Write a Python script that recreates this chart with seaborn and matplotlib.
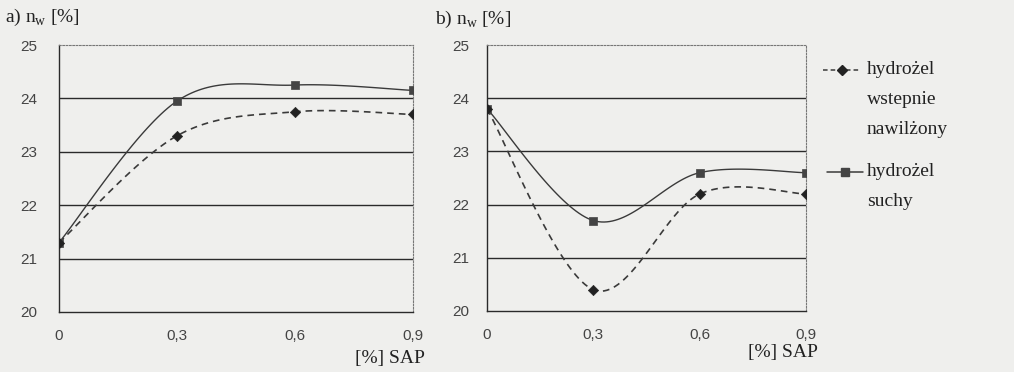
import numpy as np
import pandas as pd
import matplotlib
matplotlib.use("Agg")
import matplotlib.pyplot as plt
import seaborn as sns
from matplotlib.lines import Line2D

sns.set_theme(style="white")

sap = [0.0, 0.3, 0.6, 0.9]
xtick_labels = ["0", "0,3", "0,6", "0,9"]
a_wet = [21.3, 23.3, 23.75, 23.7]
a_dry = [21.3, 23.95, 24.25, 24.15]
b_wet = [23.8, 20.4, 22.2, 22.2]
b_dry = [23.8, 21.7, 22.6, 22.6]
series_names = ["hydrożel\nwstepnie\nnawilżony", "hydrożel\nsuchy"]

BG = "#efefed"
INK = "#2a2a2a"
serif = "Liberation Serif"
sans = "Liberation Sans"


def smooth(x, y, n=40):
    # Excel-like smoothed line (Catmull-Rom / cubic Bezier) through data points
    x = np.asarray(x, float); y = np.asarray(y, float)
    px = np.concatenate([[x[0]], x, [x[-1]]])
    py = np.concatenate([[y[0]], y, [y[-1]]])
    xs, ys = [], []
    for i in range(1, len(px) - 2):
        p0 = np.array([px[i - 1], py[i - 1]]); p1 = np.array([px[i], py[i]])
        p2 = np.array([px[i + 1], py[i + 1]]); p3 = np.array([px[i + 2], py[i + 2]])
        c1 = p1 + (p2 - p0) / 6.0
        c2 = p2 - (p3 - p1) / 6.0
        t = np.linspace(0, 1, n)[:, None]
        pts = (1 - t) ** 3 * p1 + 3 * (1 - t) ** 2 * t * c1 + 3 * (1 - t) * t ** 2 * c2 + t ** 3 * p2
        xs.extend(pts[:, 0]); ys.extend(pts[:, 1])
    return np.array(xs), np.array(ys)


fig = plt.figure(figsize=(10.14, 3.72), dpi=100)
fig.patch.set_facecolor(BG)

ax_a = fig.add_axes([0.0582, 0.1613, 0.349, 0.7177])
ax_b = fig.add_axes([0.4803, 0.1640, 0.3146, 0.7150])

for ax, wet, dry, ypad in [(ax_a, a_wet, a_dry, 12), (ax_b, b_wet, b_dry, 9)]:
    ax.set_facecolor(BG)
    for yv in [21, 22, 23, 24]:
        ax.axhline(yv, color=INK, lw=1.0, zorder=1)
    sx, sy = smooth(sap, dry)
    sns.lineplot(x=sx, y=sy, ax=ax, color="#3a3a3a", lw=1.0, sort=False, zorder=3)
    wx, wy = smooth(sap, wet)
    sns.lineplot(x=wx, y=wy, ax=ax, color="#3a3a3a", lw=1.2, sort=False, zorder=3,
                 linestyle=(0, (4, 3)))
    sns.scatterplot(x=sap, y=dry, ax=ax, marker="s", s=38, color="#444444",
                    edgecolor="#444444", zorder=4)
    sns.scatterplot(x=sap, y=wet, ax=ax, marker="D", s=28, color="#222222",
                    edgecolor="#222222", zorder=4)
    ax.set_xlim(0, 0.9)
    ax.set_ylim(20, 25)
    ax.set_xticks(sap)
    ax.set_xticklabels(xtick_labels)
    ax.set_yticks([20, 21, 22, 23, 24, 25])
    ax.tick_params(axis="both", direction="out", length=4, width=1, color=INK,
                   labelsize=11, labelcolor="#444444")
    ax.tick_params(axis="x", pad=8)
    ax.tick_params(axis="y", pad=ypad)
    for lbl in ax.get_xticklabels() + ax.get_yticklabels():
        lbl.set_fontfamily(sans)
    for side in ["left", "bottom"]:
        ax.spines[side].set_color(INK); ax.spines[side].set_linewidth(1.0)
    for side in ["top", "right"]:
        ax.spines[side].set_color("#777777"); ax.spines[side].set_linewidth(0.8)
        ax.spines[side].set_linestyle((0, (1.5, 1.5)))
    ax.set_xlabel(""); ax.set_ylabel("")

fig.text(425 / 1014, 1 - 358 / 372, "[%] SAP", ha="right", va="center",
         fontfamily=serif, fontsize=14, color="#222222")
fig.text(818 / 1014, 1 - 352 / 372, "[%] SAP", ha="right", va="center",
         fontfamily=serif, fontsize=14, color="#222222")

fig.text(0.005, 1 - 17 / 372, r"a) n$_\mathregular{w}$ [%]", fontfamily=serif, fontsize=14,
         color="#222222", va="center", ha="left")
fig.text(435 / 1014, 1 - 19 / 372, r"b) n$_\mathregular{w}$ [%]", fontfamily=serif, fontsize=14,
         color="#222222", va="center", ha="left")

# legend, drawn by hand in figure pixel coordinates
def fx(px):
    return px / 1014

def fy(py):
    return 1 - py / 372

leg_handles = [
    dict(x0=823, x1=861, y=70, ls=(0, (3, 2)), marker="D", ms=5, mc="#222222"),
    dict(x0=827, x1=863, y=172, ls="-", marker="s", ms=6, mc="#444444"),
]
leg_text_y = [70, 172]
for h, name, ty in zip(leg_handles, series_names, leg_text_y):
    fig.add_artist(Line2D([fx(h["x0"]), fx(h["x1"])], [fy(h["y"]), fy(h["y"])],
                          transform=fig.transFigure, color="#3a3a3a", lw=1.1,
                          linestyle=h["ls"]))
    fig.add_artist(Line2D([fx((h["x0"] + h["x1"]) / 2)], [fy(h["y"])],
                          transform=fig.transFigure, marker=h["marker"],
                          markersize=h["ms"], color=h["mc"], lw=0))
    for k, line in enumerate(name.split("\n")):
        fig.text(fx(867), fy(ty + 30 * k), line, fontfamily=serif, fontsize=14,
                 color="#222222", va="center", ha="left")

fig.savefig("out.png", dpi=100, facecolor=BG)
